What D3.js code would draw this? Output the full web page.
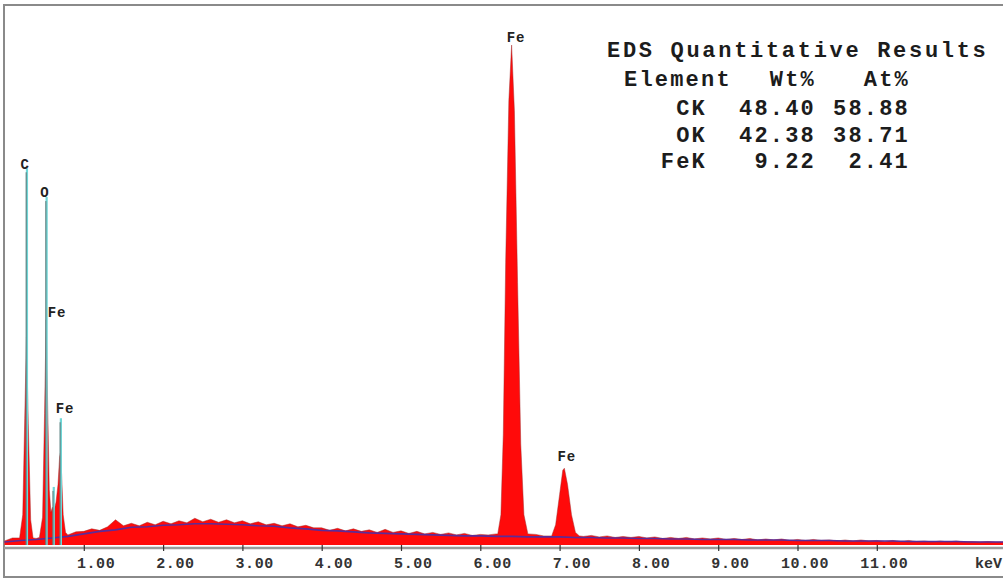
<!DOCTYPE html>
<html>
<head>
<meta charset="utf-8">
<script src="https://cdn.jsdelivr.net/npm/d3@7"></script>
<style>
  html, body { margin: 0; padding: 0; background: #fff; }
  svg { display: block; }
</style>
</head>
<body>
<svg id="chart" width="1003" height="579"></svg>
<script>
// ---- spectrum data (energy in keV, intensity in counts) ----

// continuum counts sampled every 0.1 keV from 0.0 to 12.6 keV
const bgStep = 0.1;
const bgCounts = [
   8, 14, 12, 15, 13, 17, 16, 19, 21, 26,
  27, 32, 29, 36, 50, 38, 43, 38, 45, 40,
  47, 42, 48, 44, 53, 46, 51, 45, 50, 44,
  48, 42, 46, 40, 43, 38, 42, 36, 39, 34,
  34, 29, 33, 28, 32, 27, 30, 25, 31, 25,
  28, 23, 27, 22, 25, 21, 24, 20, 23, 19,
  21, 20, 22, 21, 20, 21, 19, 21, 18, 19,
  18, 18, 19, 17, 19, 16, 18, 15, 17, 15,
  17, 14, 16, 13, 15, 13, 15, 12, 14, 12,
  14, 11, 13, 11, 13, 10, 12, 10, 12,  9,
  11,  9, 11,  9, 10,  8, 10,  8, 10,  8,
   9,  7,  9,  7,  9,  7,  8,  6,  8,  6,
   8,  6,  7,  6,  7,  6,  6
];

// fitted background, sampled every 0.2 keV from 0.0 to 12.6 keV
const fitStep = 0.2;
const fitCounts = [
   6,  9, 11, 14, 17, 22, 27, 30, 35, 36,
  39, 40, 42, 42, 41, 40, 38, 37, 34, 32,
  29, 28, 26, 24, 23, 22, 21, 20, 19, 18,
  18, 17, 17, 16, 16, 16, 15, 15, 14, 14,
  13, 13, 12, 12, 11, 11, 11, 10, 10, 10,
   9,  9,  9,  8,  8,  8,  8,  7,  7,  7,
   7,  6,  6,  6
];

// characteristic peaks: [keV, counts]
const peakC = [[0.19, 14], [0.23, 60], [0.255, 250], [0.277, 412], [0.30, 240], [0.33, 50], [0.36, 14]];
const peakOFeL = [[0.44, 15], [0.48, 55], [0.505, 260], [0.525, 446], [0.545, 270], [0.565, 110],
                  [0.585, 65], [0.605, 75], [0.625, 68], [0.65, 85], [0.675, 120], [0.695, 175],
                  [0.705, 182], [0.72, 140], [0.74, 60], [0.77, 25], [0.80, 20]];
const peakFeKa = [[6.22, 22], [6.26, 60], [6.29, 220], [6.32, 560], [6.36, 880], [6.395, 990],
                  [6.43, 860], [6.47, 520], [6.51, 200], [6.55, 60], [6.60, 22]];
const peakFeKb = [[6.90, 18], [6.95, 40], [7.00, 100], [7.04, 148], [7.06, 152], [7.10, 120],
                  [7.15, 60], [7.20, 25], [7.25, 18]];
const peaks = [peakC, peakOFeL, peakFeKa, peakFeKb];

// element marker lines
const markerEnergy = [0.277, 0.525, 0.615, 0.705];
const markerCounts = [746, 689, 115, 251];

// peak labels
const labelText   = ["C", "O", "Fe", "Fe", "Fe", "Fe"];
const labelEnergy = [0.259, 0.51, 0.662, 0.763, 6.45, 7.09];
const labelCounts = [745, 689, 451, 261, 996, 166];

// x axis
const tickValues = [1, 2, 3, 4, 5, 6, 7, 8, 9, 10, 11];
const tickLabels = ["1.00", "2.00", "3.00", "4.00", "5.00", "6.00", "7.00", "8.00", "9.00", "10.00", "11.00"];
const unitLabel = "keV";

// results table
const tableTitle = "EDS Quantitative Results";
const tableHeader = ["Element", "Wt%", "At%"];
const elements = ["CK", "OK", "FeK"];
const wtPercent = ["48.40", "42.38", "9.22"];
const atPercent = ["58.88", "38.71", "2.41"];

// ---- drawing ----
const svg = d3.select("#chart");
const x = d3.scaleLinear().domain([0, 12]).range([4.5, 4.5 + 79.3 * 12]);
const y = d3.scaleLinear().domain([0, 1000]).range([545, 40]);
const mono = "'Liberation Mono', 'Courier New', monospace";

// merge continuum with peak profiles
const bgPoints = bgCounts.map((c, i) => [+(i * bgStep).toFixed(2), c]);
const kept = bgPoints.filter(p => !peaks.some(pk => p[0] >= pk[0][0] && p[0] <= pk[pk.length - 1][0]));
const spectrum = kept.concat(...peaks).sort((a, b) => a[0] - b[0]);

const fitPoints = fitCounts.map((c, i) => [+(i * fitStep).toFixed(2), c]);

// frame
svg.append("line").attr("x1", 4).attr("x2", 1003).attr("y1", 5).attr("y2", 5)
  .attr("stroke", "#8a8a8a").attr("stroke-width", 2);
svg.append("line").attr("x1", 4).attr("x2", 4).attr("y1", 4).attr("y2", 578)
  .attr("stroke", "#8a8a8a").attr("stroke-width", 2);
svg.append("line").attr("x1", 4).attr("x2", 1003).attr("y1", 577).attr("y2", 577)
  .attr("stroke", "#8a8a8a").attr("stroke-width", 2);

// spectrum fill
const area = d3.area().x(d => x(d[0])).y0(y(0)).y1(d => y(d[1]));
svg.append("path").datum(spectrum).attr("d", area).attr("fill", "#ff0a0a");
svg.append("path").datum(spectrum)
  .attr("d", d3.line().x(d => x(d[0])).y(d => y(d[1])))
  .attr("fill", "none").attr("stroke", "#a02a2a").attr("stroke-width", 0.8).attr("opacity", 0.6);

// background fit line
svg.append("path").datum(fitPoints)
  .attr("d", d3.line().x(d => x(d[0])).y(d => y(d[1])))
  .attr("fill", "none").attr("stroke", "#5a2c9a").attr("stroke-width", 1.6);

// element markers
markerEnergy.forEach((e, i) => {
  svg.append("line").attr("x1", x(e) + 0.5).attr("x2", x(e) + 0.5)
    .attr("y1", y(0)).attr("y2", y(markerCounts[i]))
    .attr("stroke", "#6fd6d6").attr("stroke-width", 2.2);
  svg.append("line").attr("x1", x(e) - 0.3).attr("x2", x(e) - 0.3)
    .attr("y1", y(0)).attr("y2", y(markerCounts[i]) + 4)
    .attr("stroke", "#5b6b6b").attr("stroke-width", 0.9);
});

// x axis
svg.append("line").attr("x1", 4).attr("x2", 1003).attr("y1", 548).attr("y2", 548)
  .attr("stroke", "#9a9a9a").attr("stroke-width", 2.5);
const axis = d3.axisBottom(x).tickValues(tickValues).tickSize(0).tickFormat("");
const gAxis = svg.append("g").attr("transform", "translate(0,548)").call(axis);
gAxis.select(".domain").remove();
gAxis.selectAll(".tick").append("line")
  .attr("y1", -3).attr("y2", 3).attr("stroke", "#333").attr("stroke-width", 1.2);
gAxis.selectAll(".tick").append("text")
  .attr("x", 31).attr("y", 20)
  .attr("text-anchor", "end")
  .attr("fill", "#333").attr("font-family", mono).attr("font-weight", "bold")
  .attr("font-size", 15).attr("letter-spacing", 0.6)
  .text((d, i) => tickLabels[i]);
svg.append("text").attr("x", 975).attr("y", 568)
  .attr("fill", "#333").attr("font-family", mono).attr("font-weight", "bold")
  .attr("font-size", 15).text(unitLabel);

// peak labels
labelText.forEach((t, i) => {
  svg.append("text").attr("x", x(labelEnergy[i])).attr("y", y(labelCounts[i]))
    .attr("text-anchor", "middle")
    .attr("fill", "#222").attr("font-family", mono).attr("font-weight", "bold")
    .attr("font-size", 14).attr("letter-spacing", 0.8).text(t);
});

// results table
const tbl = svg.append("g").attr("font-family", mono).attr("font-weight", "bold")
  .attr("font-size", 22).attr("letter-spacing", 2.2).attr("fill", "#1c1c1c");
tbl.append("text").attr("x", 607).attr("y", 57).attr("textLength", 381).text(tableTitle);
tbl.append("text").attr("x", 624).attr("y", 86).text(tableHeader[0]);
tbl.append("text").attr("x", 816).attr("y", 86).attr("text-anchor", "end").text(tableHeader[1]);
tbl.append("text").attr("x", 910).attr("y", 86).attr("text-anchor", "end").text(tableHeader[2]);
elements.forEach((el, i) => {
  const by = 115 + i * 26.5;
  tbl.append("text").attr("x", 707).attr("y", by).attr("text-anchor", "end").text(el);
  tbl.append("text").attr("x", 816).attr("y", by).attr("text-anchor", "end").text(wtPercent[i]);
  tbl.append("text").attr("x", 910).attr("y", by).attr("text-anchor", "end").text(atPercent[i]);
});
</script>
</body>
</html>
